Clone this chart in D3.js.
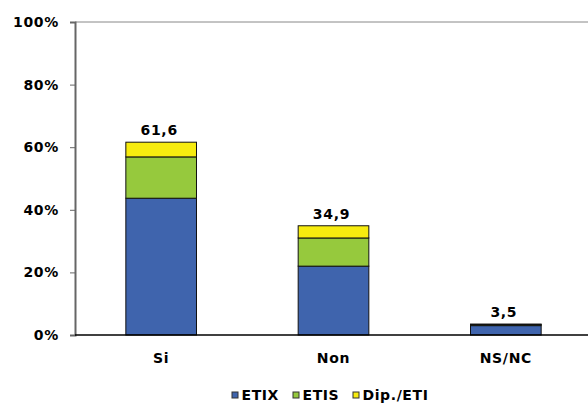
<!DOCTYPE html>
<html><head><meta charset="utf-8">
<script src="https://cdn.jsdelivr.net/npm/d3@7"></script>
<style>body{margin:0;background:#fff}svg{display:block}text{font-family:"DejaVu Sans",Verdana,sans-serif;font-weight:bold;fill:#000}</style>
</head><body><svg id="c" width="588" height="403"></svg>
<script>
const categories = ["Si", "Non", "NS/NC"];
const seriesNames = ["ETIX", "ETIS", "Dip./ETI"];
const etix = [43.7, 22.0, 3.0];
const etis = [13.2, 9.0, 0.35];
const dip = [4.7, 3.9, 0.15];
const totals = ["61,6", "34,9", "3,5"];
const yTicks = [0, 20, 40, 60, 80, 100];
const colors = ["#3F64AD", "#96C93D", "#F7EC0F"];

const svg = d3.select("#c");
const x0 = 75, x1 = 592, yb = 335, yt = 22;
const x = d3.scaleBand().domain(categories).range([x0, x1]).paddingInner(0.59).paddingOuter(0.295);
const y = d3.scaleLinear().domain([0, 100]).range([yb, yt]);

const rows = categories.map((c, i) => ({cat: c, ETIX: etix[i], ETIS: etis[i], "Dip./ETI": dip[i]}));
const stack = d3.stack().keys(seriesNames)(rows);

svg.append("line").attr("x1", x0).attr("x2", 588).attr("y1", y(100)).attr("y2", y(100)).attr("stroke", "#888").attr("stroke-width", 1);

stack.forEach((s, si) => {
  svg.append("g").selectAll("rect").data(s).join("rect")
    .attr("x", d => x(d.data.cat))
    .attr("width", x.bandwidth())
    .attr("y", d => y(d[1]))
    .attr("height", d => y(d[0]) - y(d[1]))
    .attr("fill", colors[si])
    .attr("stroke", "#111").attr("stroke-width", 1);
});

const ya = svg.append("g").attr("transform", `translate(${x0},0)`)
  .call(d3.axisLeft(y).tickValues(yTicks).tickFormat(d => d + "%").tickSize(5).tickPadding(11));
ya.select(".domain").attr("stroke", "#666").attr("stroke-width", 2);
ya.selectAll(".tick line").attr("stroke", "#666");
ya.selectAll("text").style("font-size", "14px").style("letter-spacing", "0.7px").attr("fill", "#000");

svg.append("line").attr("x1", x0).attr("x2", 588).attr("y1", yb).attr("y2", yb).attr("stroke", "#000").attr("stroke-width", 1.5);
svg.append("g").selectAll("text").data(categories).join("text")
  .attr("x", d => x(d) + x.bandwidth() / 2).attr("y", 362.5)
  .attr("text-anchor", "middle").style("font-size", "14px").style("letter-spacing", "0.7px").text(d => d);

svg.append("g").selectAll("text").data(categories).join("text")
  .attr("x", d => x(d) + x.bandwidth() / 2 - 2)
  .attr("y", (d, i) => y(etix[i] + etis[i] + dip[i]) - 7)
  .attr("text-anchor", "middle").style("font-size", "14px").style("letter-spacing", "0.7px").text((d, i) => totals[i]);

const legX = [232, 293, 353];
const lg = svg.append("g").selectAll("g").data(seriesNames).join("g")
  .attr("transform", (d, i) => `translate(${legX[i]},395)`);
lg.append("rect").attr("x", 0).attr("y", -3).attr("width", 6).attr("height", 6)
  .attr("fill", (d, i) => colors[i]).attr("stroke", "#333").attr("stroke-width", 1);
lg.append("text").attr("x", 9.5).attr("y", 4.5).style("font-size", "14px").style("letter-spacing", "0.6px").text(d => d);
</script></body></html>
